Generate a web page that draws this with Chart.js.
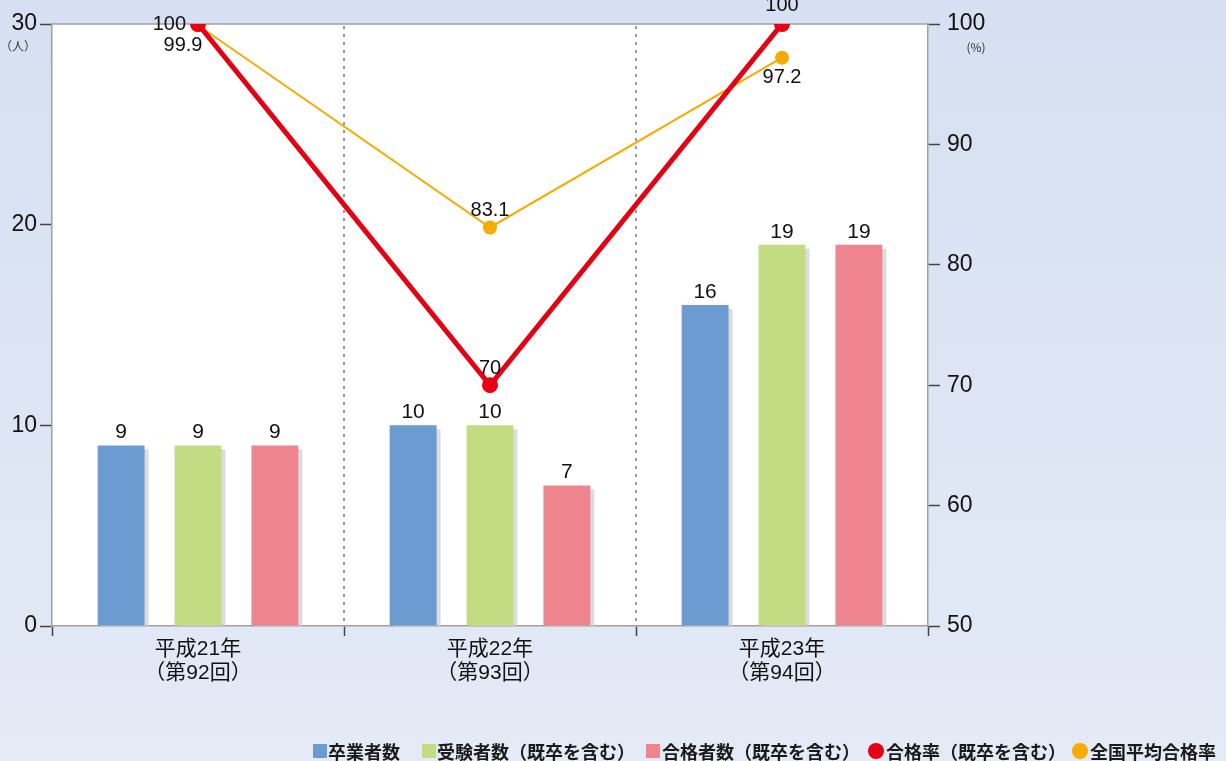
<!DOCTYPE html>
<html><head><meta charset="utf-8">
<script src="https://cdn.jsdelivr.net/npm/chart.js@4.4.1/dist/chart.umd.min.js"></script>
<style>html,body{margin:0;padding:0;background:#dde5f4;overflow:hidden}#wrap{width:1226px;height:761px;position:relative}</style>
</head><body><div id="wrap"><canvas id="c" width="1226" height="761"></canvas></div>
<script>
const categories = [['平成21年','（第92回）'],['平成22年','（第93回）'],['平成23年','（第94回）']];
const graduates = [9, 10, 16];
const examinees = [9, 10, 19];
const passers = [9, 7, 19];
const passRate = [100, 70, 100];
const nationalRate = [99.9, 83.1, 97.2];
const leftTicks = [0, 10, 20, 30];
const rightTicks = [50, 60, 70, 80, 90, 100];
const seriesNames = ['卒業者数', '受験者数（既卒を含む）', '合格者数（既卒を含む）', '合格率（既卒を含む）', '全国平均合格率'];
const colors = ['#6b9bd1', '#c3dc83', '#ee848d', '#e60012', '#f6ab00'];

const NUM = '"Liberation Sans", "Noto Sans CJK JP", sans-serif';
const JP = '"Noto Sans CJK JP", sans-serif';

const deco = {
  id: 'deco',
  beforeDraw(chart) {
    const {ctx, chartArea: a, width, height} = chart;
    ctx.save();
    const g = ctx.createLinearGradient(0, 0, 0, height);
    g.addColorStop(0, '#d6e0f2'); g.addColorStop(1, '#e4eaf6');
    ctx.fillStyle = g; ctx.fillRect(0, 0, width, height);
    ctx.fillStyle = '#ffffff';
    ctx.fillRect(a.left, a.top, a.right - a.left, a.bottom - a.top);
    const x = chart.scales.x;
    ctx.strokeStyle = '#777'; ctx.lineWidth = 1.5; ctx.setLineDash([3, 5]);
    for (let i = 1; i < categories.length; i++) {
      const px = Math.round((x.getPixelForValue(i - 1) + x.getPixelForValue(i)) / 2);
      ctx.beginPath(); ctx.moveTo(px, a.top + 2); ctx.lineTo(px, a.bottom); ctx.stroke();
    }
    ctx.setLineDash([]);
    ctx.strokeStyle = '#a0a0a0'; ctx.lineWidth = 1.5;
    ctx.beginPath(); ctx.moveTo(a.left, a.top); ctx.lineTo(a.right, a.top); ctx.stroke();
    ctx.restore();
  },
  beforeDatasetsDraw(chart) {
    const ctx = chart.ctx;
    ctx.save();
    ctx.fillStyle = '#dcdcdc';
    chart.data.datasets.forEach((ds, i) => {
      const meta = chart.getDatasetMeta(i);
      if (meta.type !== 'bar') return;
      meta.data.forEach(el => {
        const w = el.width;
        ctx.fillRect(el.x - w / 2 + 4, el.y + 4, w, el.base - el.y - 4);
      });
    });
    ctx.restore();
  },
  afterDatasetsDraw(chart) {
    const ctx = chart.ctx;
    ctx.save();
    ctx.fillStyle = '#111';
    ctx.textBaseline = 'middle';
    chart.data.datasets.forEach((ds, i) => {
      const meta = chart.getDatasetMeta(i);
      if (meta.type !== 'bar') return;
      ctx.font = '21px ' + NUM; ctx.textAlign = 'center';
      meta.data.forEach((el, j) => ctx.fillText(String(ds.data[j]), el.x, el.y - 13));
    });
    ctx.font = '20px ' + NUM;
    const red = chart.getDatasetMeta(3).data;
    ctx.textAlign = 'right'; ctx.fillText(String(passRate[0]), red[0].x - 12, red[0].y);
    ctx.textAlign = 'center'; ctx.fillText(String(passRate[1]), red[1].x, red[1].y - 17);
    ctx.fillText(String(passRate[2]), red[2].x, red[2].y - 19);
    const org = chart.getDatasetMeta(4).data;
    ctx.fillText(String(nationalRate[0]), org[0].x - 15, org[0].y + 20);
    ctx.fillText(String(nationalRate[1]), org[1].x, org[1].y - 17);
    ctx.fillText(String(nationalRate[2]), org[2].x, org[2].y + 20);
    ctx.restore();
  },
  afterDraw(chart) {
    const {ctx, chartArea: a} = chart;
    ctx.save();
    ctx.fillStyle = '#333';
    ctx.font = '12px ' + JP; ctx.textAlign = 'center'; ctx.textBaseline = 'middle';
    ctx.fillText('（人）', 18, a.top + 22);
    ctx.fillText('(%)', a.right + 48, a.top + 23);
    const boxStarts = [313, 422, 646, 868, 1072];
    const textStarts = [328, 437, 662, 886, 1090];
    const cy = 751;
    ctx.font = 'bold 18px ' + JP; ctx.textAlign = 'left';
    seriesNames.forEach((name, i) => {
      const sx = boxStarts[i];
      ctx.fillStyle = colors[i];
      if (i < 3) {
        ctx.fillRect(sx, cy - 7, 14, 14);
      } else {
        ctx.beginPath(); ctx.arc(sx + 8, cy, 8, 0, Math.PI * 2); ctx.fill();
      }
      ctx.fillStyle = '#1a1a1a';
      ctx.fillText(name, textStarts[i], cy + 1);
    });
    ctx.restore();
  }
};

const barCommon = {type: 'bar', yAxisID: 'y', borderWidth: 0, categoryPercentage: 0.79, barPercentage: 0.61, order: 3};

new Chart(document.getElementById('c'), {
  data: {
    labels: categories,
    datasets: [
      Object.assign({label: seriesNames[0], data: graduates, backgroundColor: colors[0]}, barCommon),
      Object.assign({label: seriesNames[1], data: examinees, backgroundColor: colors[1]}, barCommon),
      Object.assign({label: seriesNames[2], data: passers, backgroundColor: colors[2]}, barCommon),
      {type: 'line', label: seriesNames[3], data: passRate, yAxisID: 'y2', borderColor: colors[3], backgroundColor: colors[3],
        borderWidth: 5, pointRadius: 8, pointHoverRadius: 8, pointBorderWidth: 0, order: 0, tension: 0},
      {type: 'line', label: seriesNames[4], data: nationalRate, yAxisID: 'y2', borderColor: colors[4], backgroundColor: colors[4],
        borderWidth: 2, pointRadius: 7, pointHoverRadius: 7, pointBorderWidth: 0, order: 1, tension: 0}
    ]
  },
  options: {
    responsive: false, animation: false, devicePixelRatio: 1,
    layout: {padding: {top: 24, left: 0, right: 0, bottom: 0}},
    plugins: {legend: {display: false}, tooltip: {enabled: false}},
    scales: {
      x: {
        offset: true,
        grid: {display: true, drawOnChartArea: false, drawTicks: true, tickLength: 10, tickColor: '#444', tickWidth: 1.5, offset: true},
        border: {color: '#a0a0a0', width: 1.5},
        ticks: {font: {family: NUM, size: 21, lineHeight: 1.15}, color: '#111', padding: 1, maxRotation: 0},
        afterFit: s => { s.height = 135; }
      },
      y: {
        position: 'left', min: leftTicks[0], max: leftTicks[leftTicks.length - 1],
        afterBuildTicks: s => { s.ticks = leftTicks.map(v => ({value: v})); },
        grid: {drawOnChartArea: false, tickLength: 12, tickColor: '#444', tickWidth: 1.5},
        border: {color: '#a0a0a0', width: 1.5},
        ticks: {font: {family: NUM, size: 23}, color: '#111', padding: 3},
        afterFit: s => { s.width = 52; }
      },
      y2: {
        position: 'right', min: rightTicks[0], max: rightTicks[rightTicks.length - 1],
        afterBuildTicks: s => { s.ticks = rightTicks.map(v => ({value: v})); },
        grid: {drawOnChartArea: false, tickLength: 12, tickColor: '#444', tickWidth: 1.5},
        border: {color: '#a0a0a0', width: 1.5},
        ticks: {font: {family: NUM, size: 23}, color: '#111', padding: 7},
        afterFit: s => { s.width = 298; }
      }
    }
  },
  plugins: [deco]
});
</script></body></html>
